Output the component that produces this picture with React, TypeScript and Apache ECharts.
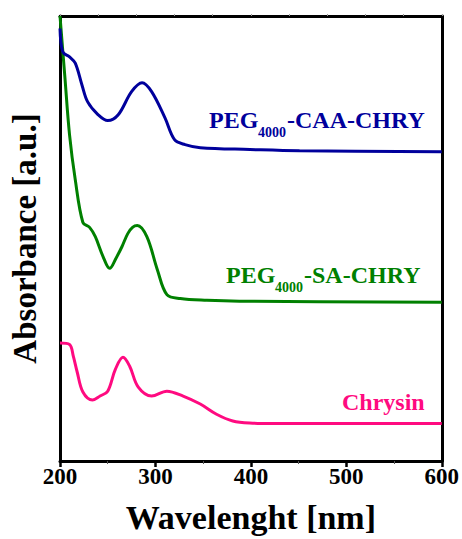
import React, { useEffect, useRef } from "react";
import * as echarts from "echarts";

// ---- Data ----
const xTicks = [200, 300, 400, 500, 600];

const caaWavelength = [200, 203, 210, 216, 223, 229, 240, 250, 261, 275, 286, 296, 310, 320, 331, 347, 399, 451, 600];
const caaAbsorbance = [97.2, 91.9, 90.8, 89.4, 84.5, 80.7, 77.8, 76.5, 77.8, 83.0, 85.0, 83.0, 77.1, 72.2, 71.1, 70.4, 70.0, 69.7, 69.5];

const saWavelength = [200, 205, 210, 216, 224, 231, 237, 245, 252, 259, 265, 271, 276, 281, 291, 302, 312, 326, 354, 388, 600];
const saAbsorbance = [100, 86.6, 73.3, 63.2, 53.6, 52.5, 50.4, 46.0, 43.3, 45.7, 48.2, 51.1, 52.5, 52.9, 50.4, 43.0, 37.4, 36.5, 36.1, 35.9, 35.7];

const chrWavelength = [200, 210, 214, 218, 224, 234, 242, 250, 258, 266, 273, 282, 296, 312, 329, 347, 364, 381, 402, 423, 600];
const chrAbsorbance = [26.5, 26.2, 23.5, 20.0, 15.5, 13.7, 14.6, 15.7, 20.6, 23.3, 21.3, 16.6, 14.6, 15.7, 14.6, 12.8, 10.5, 9.0, 8.5, 8.4, 8.4];

const BLUE = "#00009c";
const GREEN = "#008000";
const PINK = "#ff0a80";
const FONT = "'Liberation Serif', 'Times New Roman', serif";

function pairs(xs: number[], ys: number[]) {
  return xs.map((x, i) => [x, ys[i]]);
}

export default function App() {
  const ref = useRef<HTMLDivElement>(null);
  useEffect(() => {
    if (!ref.current) return;
    const chart = echarts.init(ref.current, null, { renderer: "svg" });
    const lbl = (text: string, x: number, y: number, size: number, color: string) => ({
      type: "text",
      x,
      y,
      style: {
        text,
        fill: color,
        font: `bold ${size}px ${FONT}`,
        textAlign: "left",
        textVerticalAlign: "middle",
      },
    });
    chart.setOption({
      animation: false,
      backgroundColor: "#ffffff",
      grid: { left: 60, right: 20, top: 16, bottom: 77, containLabel: false },
      xAxis: [
        {
          type: "value",
          min: xTicks[0],
          max: xTicks[xTicks.length - 1],
          interval: 100,
          name: "Wavelenght [nm]",
          nameLocation: "middle",
          nameGap: 39,
          nameTextStyle: { fontFamily: FONT, fontWeight: "bold", fontSize: 34, color: "#000" },
          axisLine: { show: true, onZero: false, lineStyle: { color: "#000", width: 3 } },
          axisTick: { show: true, inside: false, length: 6, lineStyle: { color: "#000", width: 2.5 } },
          minorTick: { show: true, splitNumber: 2, length: 3, lineStyle: { color: "#555", width: 1 } },
          axisLabel: {
            show: true,
            margin: 4,
            fontFamily: FONT,
            fontWeight: "bold",
            fontSize: 23,
            color: "#000",
          },
          splitLine: { show: false },
        },
        {
          type: "value",
          position: "top",
          min: 200,
          max: 600,
          interval: 40,
          axisLine: { show: true, onZero: false, lineStyle: { color: "#000", width: 3 } },
          axisTick: { show: true, inside: false, length: 2, lineStyle: { color: "#999", width: 1 } },
          axisLabel: { show: false },
          splitLine: { show: false },
        },
      ],
      yAxis: [
        {
          type: "value",
          min: 0,
          max: 100,
          name: "Absorbance [a.u.]",
          nameLocation: "middle",
          nameGap: 19,
          nameTextStyle: { fontFamily: FONT, fontWeight: "bold", fontSize: 33, color: "#000" },
          axisLine: { show: true, onZero: false, lineStyle: { color: "#000", width: 3 } },
          axisTick: { show: false },
          axisLabel: { show: false },
          splitLine: { show: false },
        },
        {
          type: "value",
          position: "right",
          min: 0,
          max: 100,
          axisLine: { show: true, onZero: false, lineStyle: { color: "#000", width: 3 } },
          axisTick: { show: false },
          axisLabel: { show: false },
          splitLine: { show: false },
        },
      ],
      series: [
        {
          name: "PEG4000-CAA-CHRY",
          type: "line",
          data: pairs(caaWavelength, caaAbsorbance),
          smooth: 0.35,
          showSymbol: false,
          lineStyle: { color: BLUE, width: 3 },
          itemStyle: { color: BLUE },
          z: 3,
        },
        {
          name: "PEG4000-SA-CHRY",
          type: "line",
          data: pairs(saWavelength, saAbsorbance),
          smooth: 0.35,
          showSymbol: false,
          lineStyle: { color: GREEN, width: 3 },
          itemStyle: { color: GREEN },
          z: 2,
        },
        {
          name: "Chrysin",
          type: "line",
          data: pairs(chrWavelength, chrAbsorbance),
          smooth: 0.35,
          showSymbol: false,
          lineStyle: { color: PINK, width: 3 },
          itemStyle: { color: PINK },
          z: 2,
        },
      ],
      graphic: [
        lbl("PEG", 209, 120, 24, BLUE),
        lbl("4000", 258, 132, 14, BLUE),
        lbl("-CAA-CHRY", 287, 120, 24, BLUE),
        lbl("PEG", 226, 275, 24, GREEN),
        lbl("4000", 275, 287, 14, GREEN),
        lbl("-SA-CHRY", 304, 275, 24, GREEN),
        lbl("Chrysin", 342, 402, 24, PINK),
      ],
    });
    return () => chart.dispose();
  }, []);
  return (
    <div
      ref={ref}
      style={{ position: "absolute", left: 0, top: 0, width: 462, height: 539 }}
    />
  );
}
